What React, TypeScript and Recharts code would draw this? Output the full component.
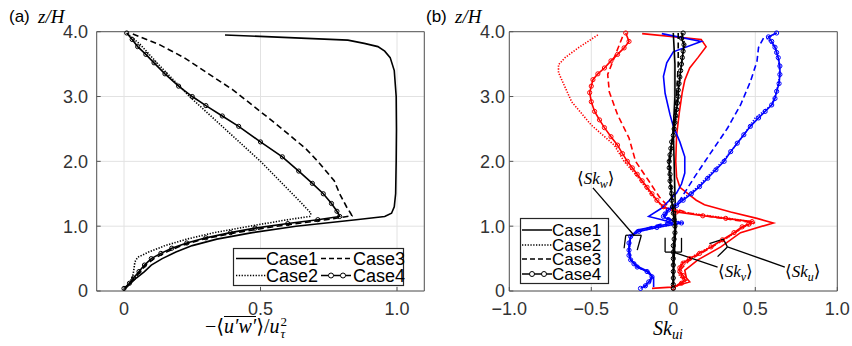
import React from "react";
import { LineChart, Line, XAxis, YAxis, CartesianGrid, ReferenceLine } from "recharts";

// (a) -<u'w'>/u_tau^2 profiles: z/H levels and values per case
const aZ1 = [0.02, 0.1, 0.2, 0.3, 0.4, 0.5, 0.6, 0.7, 0.8, 0.9, 1.0, 1.1, 1.15, 1.2, 1.3, 1.5, 2.0, 2.5, 3.0, 3.4, 3.6, 3.7, 3.77, 3.82, 3.87, 3.95];
const aV1 = [0.0, 0.02, 0.045, 0.075, 0.1, 0.14, 0.19, 0.25, 0.34, 0.47, 0.63, 0.85, 0.955, 0.98, 0.99, 0.995, 0.997, 0.998, 0.997, 0.99, 0.975, 0.955, 0.93, 0.88, 0.82, 0.37];
const aZ2 = [0.02, 0.1, 0.2, 0.3, 0.45, 0.52, 0.6, 0.7, 0.8, 0.9, 1.0, 1.1, 1.15, 1.2, 1.4, 1.7, 2.0, 2.5, 3.0, 3.5, 3.8, 3.98];
const aV2 = [0.0, 0.015, 0.03, 0.035, 0.04, 0.05, 0.09, 0.15, 0.23, 0.33, 0.46, 0.6, 0.68, 0.685, 0.64, 0.57, 0.5, 0.37, 0.24, 0.125, 0.06, 0.01];
const aZ3 = [0.02, 0.1, 0.2, 0.3, 0.4, 0.5, 0.6, 0.7, 0.8, 0.9, 1.0, 1.1, 1.16, 1.2, 1.3, 1.5, 1.7, 2.0, 2.2, 2.6, 3.1, 3.6, 3.8, 3.97];
const aV3 = [0.0, 0.018, 0.04, 0.06, 0.08, 0.11, 0.155, 0.21, 0.29, 0.41, 0.56, 0.74, 0.835, 0.83, 0.815, 0.79, 0.77, 0.71, 0.665, 0.55, 0.4, 0.22, 0.13, 0.03];
const aZ4 = [0.04, 0.12, 0.2, 0.3, 0.4, 0.5, 0.58, 0.66, 0.74, 0.82, 0.9, 0.97, 1.04, 1.1, 1.15, 1.23, 1.35, 1.5, 1.66, 1.85, 2.07, 2.3, 2.54, 2.7, 2.86, 3.0, 3.16, 3.35, 3.52, 3.65, 3.77, 3.88, 3.98];
const aV4 = [0.0, 0.02, 0.035, 0.055, 0.075, 0.1, 0.135, 0.175, 0.23, 0.3, 0.39, 0.48, 0.6, 0.71, 0.79, 0.78, 0.76, 0.73, 0.69, 0.64, 0.58, 0.5, 0.42, 0.36, 0.3, 0.25, 0.2, 0.15, 0.11, 0.08, 0.05, 0.03, 0.01];

// (b) skewness profiles: u (red), w (blue), v (black)
const bUZ1 = [3.97, 3.88, 3.77, 3.6, 3.44, 3.25, 3.07, 2.76, 2.4, 2.0, 1.76, 1.6, 1.51, 1.4, 1.33, 1.22, 1.12, 1.05, 0.9, 0.68, 0.48, 0.32, 0.2, 0.14, 0.06, 0.04];
const bU1 = [-0.19, 0.17, 0.2, 0.15, 0.1, 0.07, 0.055, 0.037, 0.02, 0.015, 0.02, 0.04, 0.085, 0.14, 0.19, 0.35, 0.51, 0.61, 0.41, 0.29, 0.15, 0.07, 0.08, 0.1, -0.01, -0.13];
const bUZ2 = [3.95, 3.75, 3.6, 3.49, 3.37, 3.2, 2.92, 2.56, 2.25, 2.0, 1.8, 1.6, 1.45, 1.28, 1.2, 1.12, 1.07, 1.05, 0.99, 0.79, 0.58, 0.43, 0.32, 0.22, 0.16, 0.1, 0.05];
const bU2 = [-0.46, -0.58, -0.66, -0.7, -0.7, -0.67, -0.62, -0.5, -0.36, -0.3, -0.23, -0.17, -0.12, -0.06, 0.1, 0.34, 0.47, 0.5, 0.43, 0.31, 0.15, 0.05, 0.03, 0.04, 0.08, 0.04, 0.0];
const bUZ3 = [3.92, 3.6, 3.34, 3.07, 2.72, 2.36, 2.0, 1.7, 1.45, 1.3, 1.2, 1.12, 1.06, 0.94, 0.7, 0.48, 0.32, 0.15, 0.05];
const bU3 = [-0.31, -0.36, -0.4, -0.39, -0.34, -0.27, -0.23, -0.15, -0.085, -0.03, 0.1, 0.3, 0.47, 0.4, 0.25, 0.1, 0.04, 0.06, 0.0];
const bUZ4 = [3.98, 3.85, 3.75, 3.65, 3.55, 3.44, 3.35, 3.26, 3.16, 3.06, 2.92, 2.77, 2.64, 2.52, 2.38, 2.25, 2.12, 2.0, 1.9, 1.8, 1.7, 1.6, 1.5, 1.4, 1.3, 1.22, 1.16, 1.12, 1.07, 1.03, 0.99, 0.9, 0.79, 0.68, 0.58, 0.5, 0.43, 0.36, 0.3, 0.24, 0.18, 0.12, 0.05];
const bU4 = [-0.29, -0.27, -0.3, -0.34, -0.38, -0.42, -0.46, -0.49, -0.5, -0.51, -0.5, -0.48, -0.45, -0.42, -0.38, -0.34, -0.31, -0.28, -0.25, -0.22, -0.19, -0.16, -0.13, -0.1, -0.06, 0.02, 0.18, 0.32, 0.48, 0.46, 0.42, 0.37, 0.3, 0.23, 0.16, 0.1, 0.06, 0.04, 0.04, 0.06, 0.07, 0.05, 0.0];

const bWZ1 = [3.97, 3.85, 3.69, 3.52, 3.31, 3.05, 2.72, 2.54, 2.3, 2.07, 1.82, 1.65, 1.51, 1.28, 1.15, 1.1, 1.05, 0.94, 0.84, 0.63, 0.48, 0.37, 0.3, 0.2, 0.12, 0.06];
const bW1 = [-0.07, 0.17, 0.0, -0.04, -0.06, -0.05, -0.02, 0.0, 0.04, 0.07, 0.07, 0.05, 0.02, -0.07, -0.15, -0.07, 0.0, -0.22, -0.26, -0.27, -0.26, -0.21, -0.15, -0.12, -0.12, -0.12];
const bWZ2 = [3.98, 3.9, 3.76, 3.6, 3.34, 3.08, 2.87, 2.67, 2.41, 2.15, 2.0, 1.87, 1.61, 1.4, 1.25, 1.15, 1.1, 1.05, 0.98, 0.92, 0.84, 0.63, 0.48, 0.37, 0.3, 0.22, 0.14, 0.04];
const bW2 = [0.63, 0.57, 0.62, 0.64, 0.65, 0.63, 0.6, 0.5, 0.43, 0.35, 0.3, 0.25, 0.15, 0.05, -0.04, -0.06, -0.02, 0.06, -0.1, -0.21, -0.26, -0.27, -0.26, -0.22, -0.16, -0.13, -0.15, -0.2];
const bWZ3 = [3.9, 3.76, 3.54, 3.23, 2.87, 2.51, 2.1, 1.76, 1.4, 1.25, 1.15, 1.08, 1.0, 0.92, 0.84, 0.63, 0.48, 0.37, 0.3, 0.22, 0.14, 0.05];
const bW3 = [0.55, 0.52, 0.51, 0.47, 0.41, 0.33, 0.22, 0.13, 0.04, -0.03, -0.05, 0.0, -0.12, -0.22, -0.26, -0.27, -0.26, -0.22, -0.16, -0.13, -0.14, -0.18];
const bWZ4 = [3.98, 3.92, 3.85, 3.76, 3.68, 3.6, 3.47, 3.34, 3.2, 3.08, 2.97, 2.87, 2.77, 2.67, 2.54, 2.41, 2.28, 2.15, 2.0, 1.87, 1.74, 1.61, 1.5, 1.4, 1.32, 1.25, 1.19, 1.15, 1.1, 1.05, 0.98, 0.92, 0.84, 0.74, 0.63, 0.55, 0.48, 0.42, 0.37, 0.3, 0.22, 0.14, 0.08, 0.04];
const bW4 = [0.63, 0.58, 0.6, 0.62, 0.63, 0.64, 0.65, 0.65, 0.645, 0.63, 0.62, 0.6, 0.56, 0.52, 0.47, 0.43, 0.39, 0.35, 0.31, 0.26, 0.21, 0.16, 0.11, 0.06, 0.02, -0.03, -0.05, -0.06, -0.03, 0.05, -0.1, -0.21, -0.26, -0.27, -0.27, -0.27, -0.26, -0.24, -0.22, -0.16, -0.13, -0.15, -0.17, -0.2];

const bVZ1 = [3.98, 3.5, 3.0, 2.5, 2.0, 1.5, 1.0, 0.5, 0.05];
const bV1 = [0.0, 0.01, 0.01, 0.0, 0.005, 0.01, 0.015, 0.005, 0.0];
const bVZ2 = [3.98, 3.9, 3.8, 3.65, 3.5, 3.25, 3.0, 2.75, 2.5, 2.25, 2.0, 1.8, 1.6, 1.4, 1.2, 1.0, 0.8, 0.6, 0.4, 0.2, 0.05];
const bV2 = [0.05, 0.06, 0.07, 0.06, 0.05, 0.04, 0.03, 0.02, 0.01, -0.01, -0.03, -0.025, -0.02, -0.01, 0.0, 0.01, 0.01, 0.0, 0.0, 0.0, 0.0];
const bVZ3 = [3.98, 3.5, 3.0, 2.5, 2.0, 1.5, 1.0, 0.5, 0.05];
const bV3 = [0.03, 0.03, 0.02, 0.0, -0.02, -0.01, 0.01, 0.0, 0.0];
const bVZ4 = [3.98, 3.9, 3.8, 3.7, 3.6, 3.5, 3.4, 3.3, 3.2, 3.1, 3.0, 2.9, 2.8, 2.7, 2.6, 2.5, 2.4, 2.3, 2.2, 2.1, 2.0, 1.9, 1.8, 1.7, 1.6, 1.5, 1.4, 1.3, 1.2, 1.1, 1.0, 0.9, 0.8, 0.7, 0.6, 0.5, 0.4, 0.3, 0.2, 0.1, 0.04];
const bV4 = [0.06, 0.05, 0.065, 0.06, 0.055, 0.05, 0.045, 0.04, 0.035, 0.03, 0.03, 0.025, 0.02, 0.015, 0.01, 0.005, 0.0, -0.01, -0.015, -0.02, -0.025, -0.025, -0.02, -0.02, -0.015, -0.01, -0.01, -0.005, 0.0, 0.005, 0.01, 0.01, 0.005, 0.0, 0.0, 0.0, 0.0, 0.0, 0.0, 0.0, 0.0];

const zTicks = [0, 1, 2, 3, 4];
const aTicks = [0, 0.5, 1];
const bTicks = [-1, -0.5, 0, 0.5, 1];

// annotation brackets / leaders for panel (b), in data units
const skwLines = [
  [[-0.49, 1.59], [-0.24, 0.86]],
  [[-0.3, 0.66], [-0.29, 0.86]],
  [[-0.29, 0.86], [-0.195, 0.86]],
  [[-0.195, 0.86], [-0.22, 0.63]],
];
const skvLines = [
  [[-0.05, 0.82], [-0.05, 0.6]],
  [[-0.05, 0.6], [0.05, 0.6]],
  [[0.05, 0.6], [0.05, 0.82]],
  [[0.0, 0.6], [0.27, 0.37]],
];
const skuLines = [
  [[0.22, 0.73], [0.305, 0.8]],
  [[0.305, 0.8], [0.33, 0.68]],
  [[0.33, 0.68], [0.27, 0.53]],
  [[0.33, 0.68], [0.68, 0.37]],
];

const pts = (z: number[], v: number[]) => z.map((zz, i) => ({ x: v[i], z: zz }));

const fmt = (v: number) => (v === 0 ? "0" : v < 0 ? `\u2212${Math.abs(v).toFixed(1)}` : v.toFixed(1));
const blank = () => "";

const RED = "#ff0000";
const BLUE = "#0000ff";
const INK = "#262626";
const tickFont = { fontSize: 18, fill: "#333", fontFamily: "Liberation Sans, Arial, sans-serif" };

const ring = (color: string) => (p: any) => (
  <circle key={`m${p.index}`} cx={p.cx} cy={p.cy} r={2.1} fill="none" stroke={color} strokeWidth={1} />
);

function frame(xDomain: number[], xTicks: number[], yTickMargin: number) {
  return [
    <CartesianGrid key="grid" stroke="#e2e2e2" strokeWidth={1} />,
    <XAxis key="xb" xAxisId={0} type="number" dataKey="x" domain={xDomain} ticks={xTicks} tickFormatter={fmt}
      height={30} tickSize={-4} tickMargin={15} stroke="#555" tick={tickFont} />,
    <XAxis key="xt" xAxisId="top" orientation="top" type="number" dataKey="x" domain={xDomain} ticks={xTicks}
      tickFormatter={blank} height={10} tickSize={-4} stroke="#555" />,
    <YAxis key="yl" yAxisId={0} type="number" dataKey="z" domain={[0, 4]} ticks={zTicks} tickFormatter={fmt}
      width={60} tickSize={-4} tickMargin={yTickMargin} stroke="#555" tick={tickFont} />,
    <YAxis key="yr" yAxisId="r" orientation="right" type="number" domain={[0, 4]} ticks={zTicks}
      tickFormatter={blank} width={10} tickSize={-4} stroke="#555" />,
  ];
}

function profile(key: string, z: number[], v: number[], color: string, style: string) {
  const dash = style === "dot" ? "1.3 1.5" : style === "dash" ? "6 3.5" : undefined;
  return (
    <Line key={key} data={pts(z, v)} dataKey="z" type="linear" stroke={color} strokeWidth={1.6}
      strokeDasharray={dash} dot={style === "ring" ? ring(color) : false} activeDot={false}
      isAnimationActive={false} />
  );
}

function segs(prefix: string, list: number[][][]) {
  return list.map((s, i) => (
    <ReferenceLine key={`${prefix}${i}`} segment={[{ x: s[0][0], y: s[0][1] }, { x: s[1][0], y: s[1][1] }]}
      stroke="#000" strokeWidth={1.3} />
  ));
}

const serif = "Liberation Serif, DejaVu Serif, serif";
const sans = "Liberation Sans, Arial, sans-serif";

function Sample({ x, y, style }: { x: number; y: number; style: string }) {
  const dash = style === "dot" ? "1.3 1.5" : style === "dash" ? "5 3" : undefined;
  return (
    <g>
      <line x1={x} x2={x + 30} y1={y} y2={y} stroke="#000" strokeWidth={1.5} strokeDasharray={dash} />
      {style === "ring" && (
        <>
          <circle cx={x + 10} cy={y} r={2.5} fill="#fff" stroke="#000" />
          <circle cx={x + 22} cy={y} r={2.5} fill="#fff" stroke="#000" />
        </>
      )}
    </g>
  );
}

function SkLabel({ x, y, sub }: { x: number; y: number; sub: string }) {
  return (
    <text x={x} y={y} fontFamily={serif} fontSize={17} fill="#000">
      <tspan>{"\u27E8"}</tspan>
      <tspan fontStyle="italic">Sk</tspan>
      <tspan fontStyle="italic" fontSize={12} dy={4}>{sub}</tspan>
      <tspan dy={-4}>{"\u27E9"}</tspan>
    </text>
  );
}

export default function App() {
  return (
    <div style={{ position: "absolute", left: 0, top: 0, width: 852, height: 346, background: "#fff", overflow: "hidden" }}>
      <div style={{ position: "absolute", left: 0, top: 0 }}>
        <LineChart width={440} height={346} margin={{ top: 21.7, right: 5.7, bottom: 25, left: 36.7 }}>
          {frame([-0.1, 1.1], aTicks, 12.7)}
          {profile("a1", aZ1, aV1, "#000", "solid")}
          {profile("a2", aZ2, aV2, "#000", "dot")}
          {profile("a3", aZ3, aV3, "#000", "dash")}
          {profile("a4", aZ4, aV4, "#000", "ring")}
        </LineChart>
      </div>
      <div style={{ position: "absolute", left: 430, top: 0 }}>
        <LineChart width={422} height={346} margin={{ top: 21.7, right: 4.7, bottom: 25, left: 19.3 }}>
          {frame([-1, 1], bTicks, 8.3)}
          {profile("u1", bUZ1, bU1, RED, "solid")}
          {profile("u2", bUZ2, bU2, RED, "dot")}
          {profile("u3", bUZ3, bU3, RED, "dash")}
          {profile("u4", bUZ4, bU4, RED, "ring")}
          {profile("w1", bWZ1, bW1, BLUE, "solid")}
          {profile("w2", bWZ2, bW2, BLUE, "dot")}
          {profile("w3", bWZ3, bW3, BLUE, "dash")}
          {profile("w4", bWZ4, bW4, BLUE, "ring")}
          {profile("v2", bVZ2, bV2, "#000", "dot")}
          {profile("v3", bVZ3, bV3, "#000", "dash")}
          {profile("v4", bVZ4, bV4, "#000", "ring")}
          {profile("v1", bVZ1, bV1, "#000", "solid")}
          {segs("sw", skwLines)}
          {segs("sv", skvLines)}
          {segs("su", skuLines)}
        </LineChart>
      </div>

      <svg width={852} height={346} style={{ position: "absolute", left: 0, top: 0, pointerEvents: "none" }}>
        <text x={9} y={22} fontFamily={sans} fontSize={17} fill="#000">(a)</text>
        <text x={38} y={23} fontFamily={serif} fontSize={19} fontStyle="italic" fill="#000">z/H</text>
        <text x={426} y={22} fontFamily={sans} fontSize={17} fill="#000">(b)</text>
        <text x={455} y={23} fontFamily={serif} fontSize={19} fontStyle="italic" fill="#000">z/H</text>

        <text x={653} y={335} fontFamily={serif} fontSize={20} fontStyle="italic" fill="#000">
          <tspan>Sk</tspan>
          <tspan fontSize={14} dy={4}>ui</tspan>
        </text>

        <SkLabel x={577} y={184} sub="w" />
        <SkLabel x={718} y={277} sub="v" />
        <SkLabel x={785} y={277} sub="u" />

        <g transform="translate(233,248)">
          <rect x={0.5} y={0.5} width={170} height={37} fill="#fff" stroke={INK} strokeWidth={1.2} />
          <Sample x={3} y={10.5} style="solid" />
          <text x={33} y={17} fontFamily={sans} fontSize={18} fill="#000">Case1</text>
          <Sample x={88} y={10.5} style="dash" />
          <text x={120} y={17} fontFamily={sans} fontSize={18} fill="#000">Case3</text>
          <Sample x={3} y={27.5} style="dot" />
          <text x={33} y={34} fontFamily={sans} fontSize={18} fill="#000">Case2</text>
          <Sample x={88} y={27.5} style="ring" />
          <text x={120} y={34} fontFamily={sans} fontSize={18} fill="#000">Case4</text>
        </g>

        <g transform="translate(520,218)">
          <rect x={0.5} y={0.5} width={88} height={65} fill="#fff" stroke={INK} strokeWidth={1.2} />
          <Sample x={2} y={12} style="solid" />
          <text x={32} y={18} fontFamily={sans} fontSize={17} fill="#000">Case1</text>
          <Sample x={2} y={27} style="dot" />
          <text x={32} y={33} fontFamily={sans} fontSize={17} fill="#000">Case2</text>
          <Sample x={2} y={41} style="dash" />
          <text x={32} y={47} fontFamily={sans} fontSize={17} fill="#000">Case3</text>
          <Sample x={2} y={56} style="ring" />
          <text x={32} y={62} fontFamily={sans} fontSize={17} fill="#000">Case4</text>
        </g>
      </svg>

      <div style={{ position: "absolute", left: 205, top: 316, fontFamily: serif, fontSize: 20, lineHeight: "20px", whiteSpace: "nowrap", color: "#000" }}>
        <span>{"\u2212\u27E8"}</span>
        <span style={{ display: "inline-block", fontStyle: "italic", borderTop: "1.2px solid #000", lineHeight: "18px" }}>{"u\u2032w\u2032"}</span>
        <span>{"\u27E9/"}</span>
        <span style={{ fontStyle: "italic" }}>u</span>
        <span style={{ position: "relative", display: "inline-block", width: 9 }}>
          <span style={{ position: "absolute", left: 1, top: -18, fontSize: 13, lineHeight: "13px" }}>2</span>
          <span style={{ position: "absolute", left: 1, top: -6, fontSize: 13, lineHeight: "13px", fontStyle: "italic" }}>{"\u03C4"}</span>
        </span>
      </div>
    </div>
  );
}
